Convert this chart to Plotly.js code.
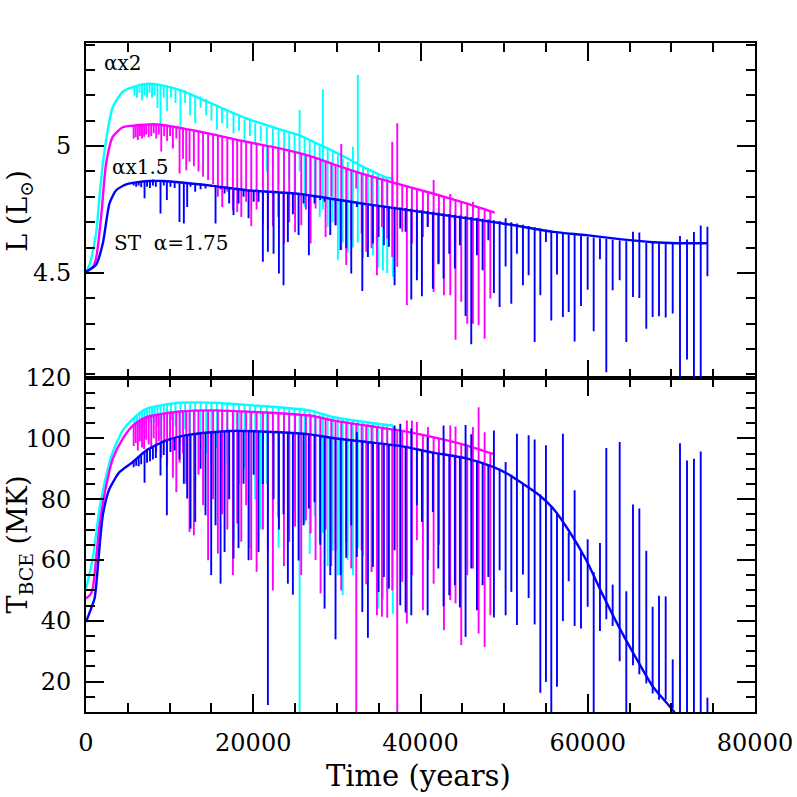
<!DOCTYPE html>
<html>
<head>
<meta charset="utf-8">
<script src="https://cdn.plot.ly/plotly-3.0.1.min.js"></script>
<style>
  html, body { margin: 0; padding: 0; background: #fff; }
  #chart { width: 797px; height: 797px; }
</style>
</head>
<body>
<div id="chart"></div>
<script>
// ---- smooth tracks, top panel: log L ----
const cyanLumT = [0, 500, 1220, 1610, 2010, 2410, 2810, 3210, 4400, 5600, 7200, 8500, 11180, 15170, 19160, 23150, 25540, 27500, 29520, 33510, 35910, 36700];
const cyanLum  = [4.504, 4.54, 4.66, 4.80, 4.93, 5.024, 5.10, 5.155, 5.214, 5.232, 5.245, 5.243, 5.221, 5.165, 5.109, 5.066, 5.042, 5.012, 4.981, 4.912, 4.876, 4.872];
const magLumT  = [0, 820, 1220, 1810, 2410, 3210, 4400, 5600, 8000, 9190, 15170, 19160, 23150, 26730, 29520, 33510, 37500, 41480, 45480, 48860];
const magLum   = [4.504, 4.524, 4.56, 4.721, 4.932, 5.037, 5.074, 5.080, 5.086, 5.083, 5.046, 5.017, 4.991, 4.961, 4.929, 4.886, 4.849, 4.813, 4.774, 4.738];
const blueLumT = [0, 1220, 2010, 2810, 3610, 4810, 6000, 7600, 9190, 15170, 19160, 25540, 33510, 41480, 49460, 55840, 59830, 63820, 67800, 70600, 74310];
const blueLum  = [4.504, 4.533, 4.616, 4.774, 4.826, 4.849, 4.857, 4.862, 4.862, 4.843, 4.826, 4.811, 4.771, 4.734, 4.697, 4.662, 4.649, 4.633, 4.621, 4.617, 4.617];

// ---- smooth tracks, bottom panel: T_BCE (MK) ----
const cyanTempT = [0, 810, 1615, 2420, 3210, 4400, 5600, 7200, 11180, 15170, 19160, 26730, 29520, 33510, 36700];
const cyanTemp  = [50.6, 60.5, 76.9, 87.8, 95.5, 102.6, 106.4, 109.7, 111.7, 111.7, 111.0, 109.2, 107.0, 105.3, 104.2];
const magTempT  = [0, 500, 810, 1615, 2420, 3210, 4400, 5600, 7200, 11180, 15170, 19160, 26730, 29520, 33510, 37500, 41480, 45480, 48660];
const magTemp   = [47.3, 48.5, 50.6, 71.4, 84.5, 93.3, 99.9, 104.2, 107.0, 108.8, 109.2, 108.8, 107.5, 105.9, 104.2, 102.6, 100.4, 97.7, 94.9];
const blueTempT = [0, 1020, 1220, 2010, 2810, 4010, 5600, 7200, 9590, 12380, 17170, 23150, 26730, 29520, 33510, 37500, 41480, 45480, 48660, 50500, 51850, 54250, 55840, 57840, 59830, 61820, 63820, 65810, 67800, 70000, 70600];
const blueTemp  = [39.6, 47.3, 51.7, 74.7, 83.4, 88.9, 92.2, 96.0, 99.3, 101.2, 102.4, 102.0, 101.3, 100.1, 98.8, 97.5, 95.3, 93.4, 90.6, 88.2, 85.8, 81.2, 77.0, 69.2, 59.9, 48.4, 37.5, 27.6, 18.3, 11.2, 9.0];

// ---- thermal pulse spikes: time, low/high in L and in T ----
const cyanPulseT = [5800, 6100, 6400, 6700, 7000, 7300, 7600, 7900, 8200, 8550,
  8910, 9300, 9700, 10150, 10700, 11300, 11850, 12450, 13060, 13700,
  14370, 15000, 15650, 16270, 16890, 17640, 18300, 18960, 19600, 20230,
  20900, 21630, 22350, 23030, 23700, 24300, 24940, 25540, 26140, 26750,
  27350, 27950, 28330, 28900, 29500, 30120, 30700, 31300, 31920, 32510,
  33130, 33710, 34310, 34910, 35510, 36020, 36700];
const cyanPulseLlo = [5.20, 5.19, 5.21, 5.18, 5.20, 5.19, 5.21, 5.19, 5.20, 5.15,
  5.084, 5.19, 5.137, 5.19, 5.17, 5.077, 5.17, 5.12, 5.09, 5.15,
  5.12, 5.10, 5.064, 5.09, 5.07, 5.05, 5.06, 5.019, 5.04, 5.005,
  5.02, 4.90, 4.92, 4.85, 4.80, 4.87, 4.75, 4.90, 4.76, 4.78,
  4.80, 4.72, 4.75, 4.68, 4.70, 4.55, 4.62, 4.58, 4.60, 4.62,
  4.56, 4.60, 4.57, 4.52, 4.51, 4.50, 4.485];
const cyanPulseLhi = [5.235, 5.240, 5.245, 5.245, 5.245, 5.245, 5.244, 5.244, 5.243, 5.243,
  5.242, 5.240, 5.238, 5.235, 5.230, 5.225, 5.220, 5.210, 5.200, 5.195,
  5.185, 5.172, 5.160, 5.150, 5.140, 5.130, 5.120, 5.105, 5.100, 5.090,
  5.080, 5.075, 5.070, 5.062, 5.055, 5.050, 5.045, 5.142, 5.032, 5.024,
  5.015, 5.003, 5.224, 4.988, 4.976, 4.964, 4.951, 4.938, 4.997, 5.280,
  4.918, 4.908, 4.898, 4.888, 4.882, 4.877, 4.872];
const cyanPulseTlo = [104.0, 105.0, 103.5, 105.5, 104.5, 106.0, 105.0, 106.5, 105.5, 104.0,
  100.0, 106.0, 102.0, 106.0, 104.0, 98.0, 103.0, 100.0, 85.6, 102.0,
  95.0, 90.0, 97.0, 88.0, 92.0, 67.0, 85.0, 90.0, 63.9, 80.0,
  70.0, 85.0, 75.0, 64.0, 78.0, 70.0, 76.0, 5.0, 72.0, 62.0,
  74.3, 66.0, 69.0, 58.0, 63.0, 55.0, 48.4, 60.0, 55.0, 64.0,
  61.4, 52.0, 58.0, 44.0, 47.0, 50.0, 42.3];
const cyanPulseThi = [107.0, 107.8, 108.4, 108.9, 109.4, 109.8, 110.1, 110.4, 110.6, 110.8,
  111.0, 111.1, 111.2, 111.4, 111.5, 111.6, 111.7, 111.7, 111.7, 111.7,
  111.7, 111.7, 111.6, 111.5, 111.4, 111.3, 111.2, 111.1, 111.0, 110.9,
  110.7, 110.5, 110.3, 110.1, 109.9, 109.7, 109.5, 109.3, 109.1, 108.9,
  108.4, 107.9, 107.6, 107.3, 107.0, 106.6, 106.3, 106.0, 105.8, 105.6,
  105.4, 105.2, 105.0, 104.8, 104.6, 104.4, 104.2];

const magPulseT = [5700, 5950, 6200, 6450, 6700, 6950, 7200, 7500, 7800, 8100,
  8400, 8700, 9000, 9350, 9700, 10050, 10390, 10800, 11190, 11600,
  11990, 12380, 12900, 13450, 14000, 14600, 15200, 15770, 16290, 16900,
  17570, 18080, 18570, 19150, 19760, 20400, 21160, 21750, 22350, 23000,
  23670, 24300, 25000, 25740, 26300, 26860, 27450, 28050, 28650, 29330,
  29840, 30520, 31120, 31720, 32320, 32960, 33510, 34150, 34790, 35390,
  36020, 36620, 37220, 37820, 38370, 38970, 39570, 40290, 40890, 41570,
  42200, 42800, 43560, 44190, 44870, 45590, 46270, 46950, 47670, 48350];
const magPulseLlo = [5.030, 5.035, 5.024, 5.040, 5.030, 5.037, 5.045, 5.035, 5.040, 5.050,
  5.030, 5.045, 4.978, 5.040, 5.020, 5.040, 4.990, 5.030, 4.892, 4.950,
  4.905, 4.938, 4.920, 4.900, 4.879, 4.866, 4.850, 4.800, 4.760, 4.820,
  4.747, 4.740, 4.720, 4.780, 4.684, 4.750, 4.697, 4.671, 4.684, 4.720,
  4.616, 4.700, 4.660, 4.688, 4.750, 4.616, 4.754, 4.800, 4.642, 4.800,
  4.688, 4.590, 4.531, 4.629, 4.833, 4.655, 4.583, 4.597, 4.491, 4.681,
  4.636, 4.563, 4.524, 4.662, 4.373, 4.616, 4.498, 4.642, 4.682, 4.425,
  4.537, 4.412, 4.412, 4.237, 4.386, 4.300, 4.300, 4.294, 4.241, 4.399];
const magPulseLhi = [5.080, 5.081, 5.082, 5.083, 5.084, 5.085, 5.086, 5.086, 5.086, 5.086,
  5.086, 5.085, 5.084, 5.083, 5.080, 5.078, 5.076, 5.073, 5.070, 5.067,
  5.064, 5.061, 5.058, 5.054, 5.051, 5.048, 5.046, 5.041, 5.038, 5.034,
  5.029, 5.026, 5.021, 5.017, 5.013, 5.009, 5.004, 5.000, 4.996, 4.992,
  4.988, 4.983, 4.977, 4.970, 4.965, 4.960, 4.953, 4.946, 4.939, 4.931,
  4.926, 5.008, 4.911, 4.904, 4.898, 4.892, 4.886, 4.879, 4.872, 4.866,
  4.860, 5.017, 5.090, 4.846, 4.841, 4.835, 4.830, 4.823, 4.818, 4.866,
  4.807, 4.801, 4.811, 4.789, 4.782, 4.773, 4.780, 4.760, 4.752, 4.744];
const magPulseTlo = [97.5, 98.5, 96.0, 99.0, 97.0, 96.5, 99.5, 98.0, 96.5, 100.0,
  95.5, 99.0, 93.5, 98.5, 91.0, 99.0, 87.0, 82.3, 92.0, 95.0,
  85.0, 69.2, 68.1, 88.0, 78.0, 59.9, 80.0, 62.1, 75.0, 70.0,
  55.0, 72.0, 66.0, 78.0, 60.0, 56.1, 70.0, 63.0, 50.0, 74.0,
  58.0, 66.0, 71.0, 55.0, 73.0, 68.7, 60.0, 49.0, 70.0, 58.0,
  63.0, 50.0, 66.0, 57.2, 5.0, 63.2, 52.0, 56.0, 41.8, 41.3,
  41.0, 50.0, 5.0, 52.8, 39.1, 55.0, 66.5, 43.5, 60.0, 52.2,
  65.0, 36.9, 46.8, 45.7, 32.0, 55.0, 57.2, 35.8, 31.4, 41.8];
const magPulseThi = [104.4, 104.9, 105.4, 105.8, 106.2, 106.6, 107.0, 107.2, 107.5, 107.7,
  107.9, 108.1, 108.3, 108.4, 108.5, 108.6, 108.7, 108.8, 108.8, 108.9,
  108.9, 109.0, 109.0, 109.1, 109.1, 109.2, 109.2, 109.1, 109.1, 109.0,
  109.0, 108.9, 108.9, 108.8, 108.8, 108.7, 108.5, 108.4, 108.3, 108.1,
  108.0, 107.9, 107.7, 107.5, 107.4, 107.2, 106.9, 106.6, 106.3, 106.0,
  105.8, 105.5, 105.3, 105.1, 104.9, 104.6, 104.3, 104.1, 103.8, 103.6,
  103.3, 103.1, 102.9, 102.5, 105.9, 105.9, 105.4, 101.0, 103.7, 100.2,
  99.8, 99.5, 104.2, 103.9, 98.3, 97.7, 103.7, 110.2, 102.0, 95.3];

const bluePulseT = [5700, 6000, 6300, 6600, 7000, 7300, 7650, 8000, 8350, 8910,
  9300, 9670, 10100, 10600, 11180, 11700, 12100, 12500, 13060, 13700,
  14290, 14970, 15490, 16090, 16570, 17120, 17640, 18240, 18840, 19440,
  20050, 20630, 21150, 21750, 22430, 23070, 23620, 24140, 24740, 25420,
  26020, 26650, 27330, 28010, 28530, 29210, 29840, 30440, 31120, 31720,
  32390, 33040, 33710, 34310, 34990, 35620, 36220, 36900, 37580, 38220,
  38900, 39570, 40170, 40850, 41480, 42130, 42760, 43440, 44110, 44710,
  45390, 46070, 46750, 47430, 48110, 48780, 49460, 50180, 50860, 51530,
  52250, 52930, 53650, 54330, 55000, 55640, 56320, 57030, 57720, 58430,
  59190, 59990, 60710, 61460, 62220, 62980, 63820, 64610, 65410, 66170,
  67000, 67760, 68520, 69320, 70160, 71030, 71870, 72700, 73510, 74310];
const bluePulseLlo = [4.845, 4.84, 4.845, 4.838, 4.794, 4.84, 4.835, 4.845, 4.84, 4.734,
  4.845, 4.787, 4.84, 4.835, 4.701, 4.695, 4.760, 4.84, 4.820, 4.83,
  4.833, 4.840, 4.695, 4.83, 4.813, 4.774, 4.728, 4.774, 4.80, 4.715,
  4.78, 4.78, 4.544, 4.583, 4.576, 4.498, 4.451, 4.622, 4.731, 4.649,
  4.774, 4.570, 4.774, 4.787, 4.780, 4.649, 4.688, 4.590, 4.597, 4.498,
  4.760, 4.429, 4.563, 4.616, 4.642, 4.609, 4.603, 4.451, 4.675, 4.662,
  4.395, 4.471, 4.408, 4.681, 4.438, 4.534, 4.478, 4.576, 4.517, 4.609,
  4.330, 4.219, 4.570, 4.511, 4.629, 4.421, 4.366, 4.525, 4.379, 4.576,
  4.451, 4.491, 4.228, 4.412, 4.622, 4.313, 4.494, 4.326, 4.346, 4.230,
  4.370, 4.434, 4.270, 4.554, 4.109, 4.432, 4.471, 4.228, 4.405, 4.401,
  4.280, 4.326, 4.329, 4.324, 4.340, 4.0, 4.159, 4.0, 4.0, 4.487];
const bluePulseLhi = [4.857, 4.858, 4.86, 4.86, 4.862, 4.866, 4.862, 4.868, 4.862, 4.862,
  4.862, 4.862, 4.86, 4.86, 4.857, 4.856, 4.855, 4.855, 4.853, 4.852,
  4.850, 4.847, 4.845, 4.842, 4.840, 4.838, 4.835, 4.833, 4.830, 4.828,
  4.826, 4.824, 4.822, 4.820, 4.818, 4.816, 4.815, 4.813, 4.811, 4.809,
  4.806, 4.803, 4.801, 4.798, 4.797, 4.794, 4.791, 4.789, 4.786, 4.783,
  4.780, 4.777, 4.774, 4.772, 4.769, 4.766, 4.764, 4.761, 4.758, 4.756,
  4.753, 4.750, 4.747, 4.744, 4.741, 4.738, 4.735, 4.732, 4.729, 4.726,
  4.723, 4.720, 4.717, 4.714, 4.711, 4.708, 4.705, 4.715, 4.700, 4.695,
  4.690, 4.685, 4.680, 4.675, 4.670, 4.665, 4.660, 4.656, 4.652, 4.649,
  4.646, 4.643, 4.640, 4.637, 4.634, 4.631, 4.628, 4.625, 4.662, 4.659,
  4.619, 4.618, 4.618, 4.617, 4.617, 4.646, 4.632, 4.661, 4.687, 4.682];
const bluePulseTlo = [90.5, 91.0, 90.8, 91.5, 85.4, 92.0, 92.5, 93.0, 93.5, 87.8,
  94.5, 74.7, 95.5, 96.0, 93.0, 85.1, 80.2, 70.3, 72.5, 90.0,
  74.7, 55.0, 71.4, 52.2, 62.6, 80.0, 60.5, 63.9, 85.1, 59.9,
  88.0, 62.6, 85.0, 12.3, 80.0, 70.0, 75.0, 52.2, 48.6, 59.8,
  71.4, 76.9, 79.0, 65.0, 44.0, 55.0, 33.9, 55.0, 60.7, 71.4,
  61.0, 42.9, 34.4, 57.7, 49.5, 54.4, 50.6, 63.2, 45.1, 42.7,
  41.8, 78.0, 72.5, 41.8, 75.8, 57.2, 44.8, 48.4, 51.7, 44.4,
  34.7, 57.2, 43.5, 51.7, 54.4, 41.1, 56.6, 41.8, 49.5, 38.6,
  55.2, 47.5, 38.8, 16.3, 19.9, 5.0, 18.3, 39.9, 53.0, 38.3,
  37.5, 44.6, 5.0, 36.6, 40.5, 38.3, 26.7, 5.0, 25.4, 22.4,
  19.4, 16.1, 14.0, 14.0, 11.2, 5.0, 5.0, 5.0, 5.0, 5.0];
const bluePulseThi = [92.8, 93.5, 94.0, 94.8, 95.6, 96.2, 96.7, 97.2, 97.6, 98.2,
  98.8, 99.3, 99.6, 100.0, 100.4, 100.7, 101.0, 101.2, 101.4, 101.6,
  101.8, 102.0, 102.1, 102.2, 102.3, 102.4, 102.4, 102.4, 102.4, 102.3,
  102.3, 102.3, 102.2, 102.2, 102.1, 102.0, 102.0, 101.9, 101.8, 101.6,
  101.5, 101.3, 101.0, 100.8, 100.6, 100.3, 100.1, 99.9, 99.7, 99.5,
  102.0, 99.0, 98.8, 98.6, 98.3, 98.1, 97.8, 104.2, 104.8, 97.2,
  103.2, 96.6, 96.2, 100.4, 95.3, 95.0, 104.2, 94.3, 94.0, 93.6,
  104.4, 101.3, 92.5, 92.0, 91.4, 102.6, 90.0, 92.2, 88.0, 101.5,
  85.0, 101.0, 99.6, 81.5, 97.7, 77.8, 75.3, 101.5, 69.0, 82.9,
  63.0, 66.8, 56.0, 65.6, 96.8, 51.9, 98.8, 49.7, 78.2, 76.9,
  63.0, 44.6, 48.2, 48.0, 27.3, 98.4, 92.7, 93.3, 95.7, 14.7];

const CYAN = '#00ffff', MAGENTA = '#ff00ff', BLUE = '#0000ff';
const FONT = 'DejaVu Serif, Liberation Serif, serif';

// vertical segments, one per pulse, broken with nulls
function spikeTrace(ts, lo, hi, color, xa, ya) {
  const x = [], y = [];
  const n = Math.min(ts.length, lo.length, hi.length);
  for (let i = 0; i < n; i++) {
    x.push(ts[i], ts[i], null);
    y.push(lo[i], hi[i], null);
  }
  return { type: 'scatter', mode: 'lines', x: x, y: y, xaxis: xa, yaxis: ya,
    line: { color: color, width: 1.9 }, hoverinfo: 'skip', showlegend: false, connectgaps: false };
}

function trackTrace(ts, vals, color, xa, ya) {
  return { type: 'scatter', mode: 'lines', x: ts, y: vals, xaxis: xa, yaxis: ya,
    line: { color: color, width: 2.4, shape: 'spline', smoothing: 0.6 }, hoverinfo: 'skip', showlegend: false };
}

const data = [
  spikeTrace(cyanPulseT, cyanPulseLlo, cyanPulseLhi, CYAN, 'x2', 'y2'),
  trackTrace(cyanLumT, cyanLum, CYAN, 'x2', 'y2'),
  spikeTrace(magPulseT, magPulseLlo, magPulseLhi, MAGENTA, 'x2', 'y2'),
  trackTrace(magLumT, magLum, MAGENTA, 'x2', 'y2'),
  spikeTrace(bluePulseT, bluePulseLlo, bluePulseLhi, BLUE, 'x2', 'y2'),
  trackTrace(blueLumT, blueLum, BLUE, 'x2', 'y2'),

  spikeTrace(cyanPulseT, cyanPulseTlo, cyanPulseThi, CYAN, 'x', 'y'),
  trackTrace(cyanTempT, cyanTemp, CYAN, 'x', 'y'),
  spikeTrace(magPulseT, magPulseTlo, magPulseThi, MAGENTA, 'x', 'y'),
  trackTrace(magTempT, magTemp, MAGENTA, 'x', 'y'),
  spikeTrace(bluePulseT, bluePulseTlo, bluePulseThi, BLUE, 'x', 'y'),
  trackTrace(blueTempT, blueTemp, BLUE, 'x', 'y')
];

const axisCommon = {
  ticks: 'inside', ticklen: 18, tickwidth: 2, tickcolor: '#000',
  showline: true, linewidth: 2, linecolor: '#000', mirror: 'allticks',
  showgrid: false, zeroline: false, automargin: false,
  tickfont: { family: FONT, size: 24, color: '#000' }
};

const layout = {
  width: 797, height: 797,
  margin: { l: 86, r: 42, t: 43, b: 85 },
  paper_bgcolor: '#fff', plot_bgcolor: '#fff',
  font: { family: FONT, color: '#000' },
  xaxis: Object.assign({}, axisCommon, {
    anchor: 'y', domain: [0, 1], range: [0, 80000], tick0: 0, dtick: 20000,
    tickformat: 'd', ticklabelstandoff: 8,
    minor: { dtick: 5000, ticks: 'inside', ticklen: 9, tickwidth: 2, tickcolor: '#000', showgrid: false }
  }),
  xaxis2: Object.assign({}, axisCommon, {
    anchor: 'y2', matches: 'x', domain: [0, 1], range: [0, 80000], tick0: 0, dtick: 20000,
    showticklabels: false,
    minor: { dtick: 5000, ticks: 'inside', ticklen: 9, tickwidth: 2, tickcolor: '#000', showgrid: false }
  }),
  yaxis: Object.assign({}, axisCommon, {
    anchor: 'x', domain: [0, 0.5], range: [10, 120], tick0: 0, dtick: 20,
    ticklabelstandoff: 8,
    minor: { dtick: 5, ticks: 'inside', ticklen: 9, tickwidth: 2, tickcolor: '#000', showgrid: false }
  }),
  yaxis2: Object.assign({}, axisCommon, {
    anchor: 'x2', domain: [0.5, 1], range: [4.088, 5.406], tick0: 0, dtick: 0.5,
    ticklabelstandoff: 8,
    minor: { dtick: 0.1, ticks: 'inside', ticklen: 9, tickwidth: 2, tickcolor: '#000', showgrid: false }
  }),
  annotations: [
    { xref: 'x2', yref: 'y2', x: 4370, y: 5.328, text: 'αx2', showarrow: false,
      font: { family: FONT, size: 20, color: '#000' } },
    { xref: 'x2', yref: 'y2', x: 6520, y: 4.917, text: 'αx1.5', showarrow: false,
      font: { family: FONT, size: 20, color: '#000' } },
    { xref: 'x2', yref: 'y2', x: 10170, y: 4.617, text: 'ST  α=1.75', showarrow: false,
      font: { family: FONT, size: 20, color: '#000' } },
    { xref: 'paper', yref: 'paper', x: -0.099, y: 0.749, text: 'L (L<sub>⊙</sub>)', textangle: -90,
      showarrow: false, xanchor: 'center', yanchor: 'middle',
      font: { family: FONT, size: 27, color: '#000' } },
    { xref: 'paper', yref: 'paper', x: -0.099, y: 0.25, text: 'T<sub>BCE</sub> (MK)', textangle: -90,
      showarrow: false, xanchor: 'center', yanchor: 'middle',
      font: { family: FONT, size: 27, color: '#000' } },
    { xref: 'paper', yref: 'paper', x: 0.497, y: -0.096, text: 'Time (years)',
      showarrow: false, xanchor: 'center', yanchor: 'middle',
      font: { family: FONT, size: 29, color: '#000' } }
  ]
};

Plotly.newPlot('chart', data, layout, { staticPlot: true, displayModeBar: false });
</script>
</body>
</html>
